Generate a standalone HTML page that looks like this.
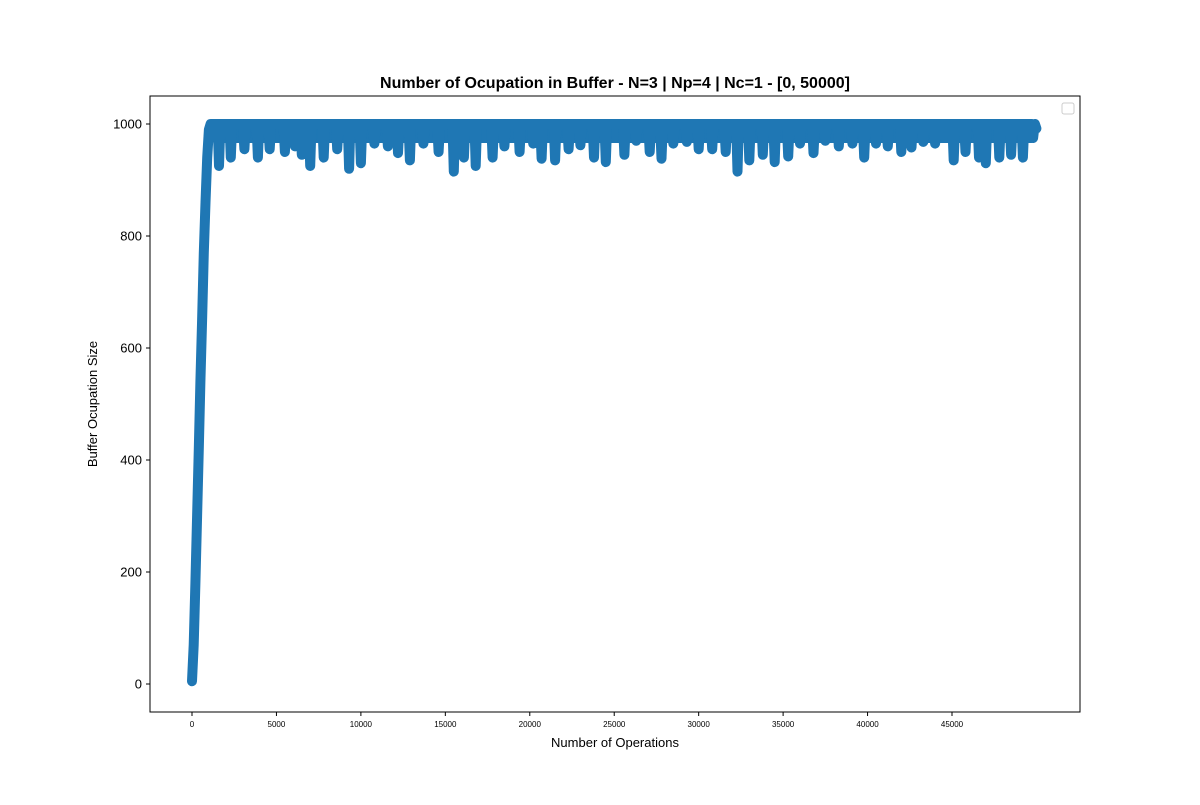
<!DOCTYPE html>
<html><head><meta charset="utf-8"><style>
body{margin:0;background:#fff;font-family:"Liberation Sans","DejaVu Sans",sans-serif}
</style></head><body>
<svg id="chart" width="1200" height="800" xmlns="http://www.w3.org/2000/svg">
<rect width="1200" height="800" fill="#fff"/>
<text x="615" y="88" text-anchor="middle" font-size="16" font-weight="bold">Number of Ocupation in Buffer - N=3 | Np=4 | Nc=1 - [0, 50000]</text>
<text x="615" y="747" text-anchor="middle" font-size="13">Number of Operations</text>
<text transform="translate(97,404) rotate(-90)" text-anchor="middle" font-size="13">Buffer Ocupation Size</text>
<g id="ticks"></g>
<g id="marks"></g>
<rect x="150" y="96" width="930" height="616" fill="none" stroke="#000" stroke-width="1"/>
<rect x="1062" y="103" width="12" height="11" rx="2" fill="#fff" stroke="#ccc"/>
</svg>
<script>
const xTicks=[0,5000,10000,15000,20000,25000,30000,35000,40000,45000];
const yTicks=[0,200,400,600,800,1000];
const rampX=[0,100,200,300,400,500,600,700,800,900,1000,1100];
const rampY=[5,70,180,300,420,540,650,770,860,940,990,1000];
const dipX=[1600,2300,3100,3900,4600,5500,6100,6500,7000,7800,8600,9300,10000,10800,11600,12200,12900,13700,14600,15500,16100,16800,17800,18500,19400,20200,20700,21500,22300,23000,23800,24500,25600,26300,27100,27800,28500,29300,30000,30800,31600,32300,33000,33800,34500,35300,36000,36800,37500,38300,39100,39800,40500,41200,42000,42600,43300,44000,44600,45100,45800,46600,47000,47800,48500,49200,49800];
const dipY=[925,940,955,940,955,950,960,945,925,940,955,920,930,965,960,948,935,965,950,915,940,925,940,960,950,965,938,935,955,962,940,932,945,970,950,938,965,968,955,955,950,915,935,945,932,942,965,948,970,960,965,940,965,960,950,958,968,965,975,935,950,940,930,940,945,940,975];
const endX=50000, baseY=992;
const NS="http://www.w3.org/2000/svg";
const sx=v=>192+v*760/45000, sy=v=>684-v*0.56;
const tg=document.getElementById('ticks'), mg=document.getElementById('marks');
function el(t,a,p){const e=document.createElementNS(NS,t);for(const k in a)e.setAttribute(k,a[k]);p.appendChild(e);return e;}
xTicks.forEach(v=>{
  const l=el('line',{x1:sx(v),x2:sx(v),y1:712,y2:716,stroke:'#000'},tg);
  
  
  const t=el('text',{x:sx(v),y:727,'text-anchor':'middle','font-size':'8'},tg);t.textContent=v;
  
  
});
yTicks.forEach(v=>{
  const l=el('line',{x1:146,x2:150,y1:sy(v),y2:sy(v),stroke:'#000'},tg);
  
  
  const t=el('text',{x:142,y:sy(v)+4.5,'text-anchor':'end','font-size':'13'},tg);t.textContent=v;
  
  
});
const pts=[];
rampX.forEach((x,i)=>pts.push([x,rampY[i]]));
dipX.forEach((x,i)=>{pts.push([x-110,1000]);pts.push([x-70,baseY]);pts.push([x,dipY[i]]);pts.push([x+70,baseY]);pts.push([x+110,1000]);});
pts.push([endX,baseY]);
const d=pts.map((p,i)=>(i?'L':'M')+sx(p[0]).toFixed(1)+' '+sy(p[1]).toFixed(1)).join(' ');
const band=el('rect',{x:sx(1100),y:sy(1000)-5,width:sx(endX)-sx(1100),height:(sy(975)-sy(1000))+10,fill:'#1f77b4',rx:5},mg);


const path=el('path',{d:d,fill:'none',stroke:'#1f77b4','stroke-width':10,'stroke-linecap':'round','stroke-linejoin':'round'},mg);


</script>
</body></html>
